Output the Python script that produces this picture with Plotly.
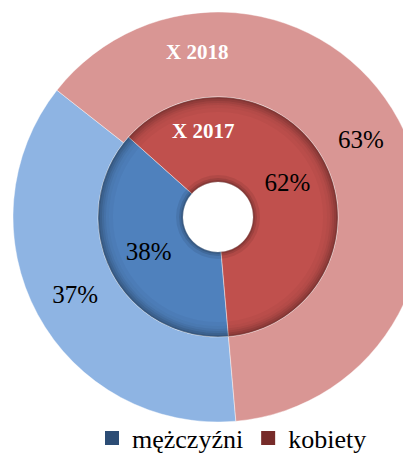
import plotly.graph_objects as go

labels = ["mężczyźni", "kobiety"]
values_2017 = [38, 62]
values_2018 = [37, 63]
colors_2017 = ["#4F81BD", "#C0504D"]
colors_2018 = ["#8EB4E3", "#D99694"]
legend_colors = ["#2C4D75", "#772C2A"]

# page body adds an 8px margin, so everything is placed 8px up/left;
# the figure is a bit larger than the window so the legend never pushes margins
W, H = 430, 470
CX, CY = 210, 209
SERIF = "Liberation Serif, Times New Roman, serif"


def dom(r):
    # pie domain for a circle of radius r (px) around the chart centre
    return dict(
        x=[(CX - r) / W, (CX + r) / W],
        y=[1 - (CY + r) / H, 1 - (CY - r) / H],
    )


def ring(r_in, r_out, alpha):
    # thin dark ring used for the bevel / inner-shadow look
    return go.Pie(
        values=[1],
        labels=["shade"],
        domain=dom(r_out),
        hole=r_in / r_out,
        marker=dict(colors=[f"rgba(0,0,0,{alpha})"], line=dict(width=0)),
        textinfo="none",
        hoverinfo="skip",
        showlegend=False,
        sort=False,
    )


fig = go.Figure()

fig.add_trace(
    go.Pie(
        values=values_2018,
        labels=labels,
        domain=dom(205),
        hole=120 / 205,
        sort=False,
        direction="clockwise",
        rotation=175,
        marker=dict(colors=colors_2018, line=dict(color="rgba(255,255,255,0.6)", width=0.7)),
        texttemplate="%{value}%",
        textposition="inside",
        insidetextorientation="horizontal",
        textfont=dict(family=SERIF, size=25, color="black"),
        showlegend=False,
        name="X 2018",
    )
)

fig.add_trace(
    go.Pie(
        values=values_2017,
        labels=labels,
        domain=dom(120),
        hole=35 / 120,
        sort=False,
        direction="clockwise",
        rotation=175,
        marker=dict(colors=colors_2017, line=dict(color="rgba(255,255,255,0.6)", width=0.7)),
        texttemplate="%{value}%",
        textposition="inside",
        insidetextorientation="horizontal",
        textfont=dict(family=SERIF, size=25, color="black"),
        showlegend=False,
        name="X 2017",
    )
)

# bevel shading on the inner ring
for r_in, r_out, a in [(118, 120, 0.32), (116, 118, 0.24), (114, 116, 0.17),
                       (112, 114, 0.11), (109, 112, 0.06), (105, 109, 0.03),
                       (35, 37, 0.30), (37, 39, 0.18), (39, 42, 0.08)]:
    fig.add_trace(ring(r_in, r_out, a))

# legend entries (empty markers, only the swatch is shown)
for lab, col in zip(labels, legend_colors):
    fig.add_trace(
        go.Scatter(
            x=[None], y=[None], mode="markers", name=lab,
            marker=dict(symbol="square", size=14, color=col),
            showlegend=True,
        )
    )

fig.add_annotation(x=189 / W, y=1 - 44 / H, xref="paper", yref="paper", text="<b>X 2018</b>",
                   xanchor="center", yanchor="middle", showarrow=False,
                   font=dict(family=SERIF, size=21, color="white"))
fig.add_annotation(x=195 / W, y=1 - 123 / H, xref="paper", yref="paper", text="<b>X 2017</b>",
                   xanchor="center", yanchor="middle", showarrow=False,
                   font=dict(family=SERIF, size=21, color="white"))

fig.update_layout(
    width=W,
    height=H,
    margin=dict(l=0, r=0, t=0, b=0),
    paper_bgcolor="white",
    plot_bgcolor="rgba(0,0,0,0)",
    xaxis=dict(visible=False),
    yaxis=dict(visible=False),
    legend=dict(
        orientation="h",
        x=84 / W,
        xanchor="left",
        y=1 - 430 / H,
        yanchor="middle",
        font=dict(family=SERIF, size=26, color="black"),
        bgcolor="rgba(0,0,0,0)",
        traceorder="normal",
    ),
)

fig.write_html("out.html")
